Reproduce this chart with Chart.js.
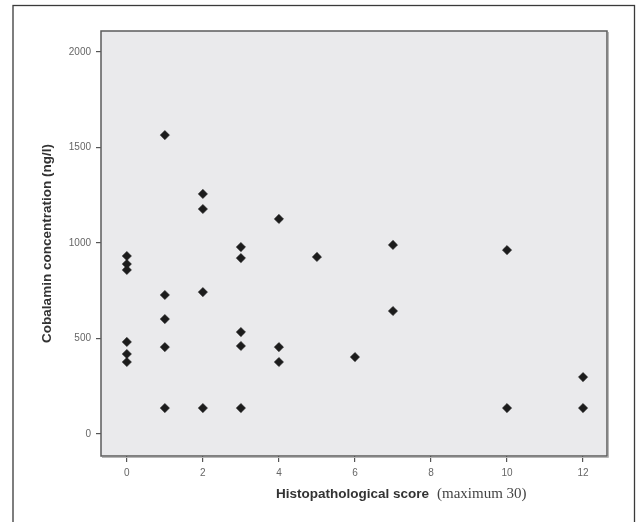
<!DOCTYPE html>
<html>
<head>
<meta charset="utf-8">
<script src="https://cdn.jsdelivr.net/npm/chart.js@4/dist/chart.umd.min.js"></script>
<style>
html,body{margin:0;padding:0;background:#fff;}
#wrap{position:relative;width:637px;height:522px;}
</style>
</head>
<body>
<div id="wrap"><canvas id="c" width="637" height="522"></canvas></div>
<script>
// Histopathological score (x) and cobalamin concentration (y)
const scoreValues = [0,0,0,0,0,0, 1,1,1,1,1, 2,2,2,2, 3,3,3,3,3, 4,4,4, 5, 6, 7,7, 10,10, 12,12];
const cobalaminValues = [932,890,859,482,419,377, 1565,728,602,455,136, 1257,1178,743,136, 979,921,534,461,136, 1126,455,377, 927, 403, 990,644, 963,136, 298,136];
const xTickValues = [0,2,4,6,8,10,12];
const yTickValues = [0,500,1000,1500,2000];
const xTitleBold = 'Histopathological score';
const xTitleSerif = '(maximum 30)';
const yTitle = 'Cobalamin concentration (ng/l)';

const points = scoreValues.map((s,i)=>({x:s,y:cobalaminValues[i]}));

const framePlugin = {
  id:'frame',
  beforeDraw(chart){
    const ctx = chart.ctx, a = chart.chartArea;
    ctx.save();
    ctx.fillStyle = '#fff';
    ctx.fillRect(0,0,chart.width,chart.height);
    ctx.strokeStyle = '#3a3a3a';
    ctx.lineWidth = 1.3;
    ctx.strokeRect(13, 5.5, 621.5, 600);
    ctx.fillStyle = '#eaeaec';
    ctx.fillRect(a.left, a.top, a.right-a.left, a.bottom-a.top);
    ctx.restore();
  },
  afterDatasetsDraw(chart){
    const ctx = chart.ctx, a = chart.chartArea;
    ctx.save();
    ctx.strokeStyle = '#b8b8b8';
    ctx.lineWidth = 1;
    ctx.beginPath();
    ctx.moveTo(a.right+1.5, a.top+1); ctx.lineTo(a.right+1.5, a.bottom+1.5);
    ctx.moveTo(a.left+1, a.bottom+1.5); ctx.lineTo(a.right+1.5, a.bottom+1.5);
    ctx.stroke();
    ctx.strokeStyle = '#5c5c5c';
    ctx.lineWidth = 1.5;
    ctx.strokeRect(a.left, a.top, a.right-a.left, a.bottom-a.top);
    // x-axis title with mixed fonts
    ctx.fillStyle = '#333';
    ctx.textBaseline = 'alphabetic';
    ctx.textAlign = 'left';
    ctx.font = 'bold 13.5px "Liberation Sans", Arial, sans-serif';
    const x0 = 276, yb = 498;
    ctx.fillText(xTitleBold, x0, yb);
    const w = ctx.measureText(xTitleBold).width;
    ctx.font = '15px "Liberation Serif", "Times New Roman", serif';
    ctx.fillStyle = '#444';
    ctx.fillText(xTitleSerif, x0 + w + 8, yb);
    ctx.restore();
  }
};

new Chart(document.getElementById('c'), {
  type:'scatter',
  data:{datasets:[{
    data:points,
    pointStyle:'rectRot',
    pointRadius:4.6,
    pointBackgroundColor:'#1c1c1c',
    pointBorderColor:'#1c1c1c',
    pointBorderWidth:0.6
  }]},
  options:{
    responsive:false,
    animation:false,
    events:[],
    layout:{padding:{left:0,top:31,right:30,bottom:0}},
    plugins:{legend:{display:false},tooltip:{enabled:false}},
    scales:{
      x:{
        type:'linear',
        min:-0.68, max:12.63,
        afterBuildTicks(axis){ axis.ticks = xTickValues.map(v=>({value:v})); },
        afterFit(scale){ scale.height = 66; },
        border:{display:false},
        grid:{display:true, drawOnChartArea:false, drawTicks:true, tickLength:6, color:'#555', lineWidth:1.2},
        ticks:{color:'#666', padding:5, maxRotation:0, callback:v=>String(v),
               font:{size:10, family:'"Liberation Sans", Arial, sans-serif'}}
      },
      y:{
        type:'linear',
        min:-115, max:2110,
        afterBuildTicks(axis){ axis.ticks = yTickValues.map(v=>({value:v})); },
        afterFit(scale){ scale.width = 101; },
        border:{display:false},
        grid:{display:true, drawOnChartArea:false, drawTicks:true, tickLength:5, color:'#555', lineWidth:1.2},
        ticks:{color:'#666', padding:5, callback:v=>String(v),
               font:{size:10, family:'"Liberation Sans", Arial, sans-serif'}},
        title:{display:true, text:yTitle, color:'#333', padding:{top:39,bottom:0},
               font:{size:13.5, weight:'bold', family:'"Liberation Sans", Arial, sans-serif'}}
      }
    }
  },
  plugins:[framePlugin]
});
</script>
</body>
</html>
